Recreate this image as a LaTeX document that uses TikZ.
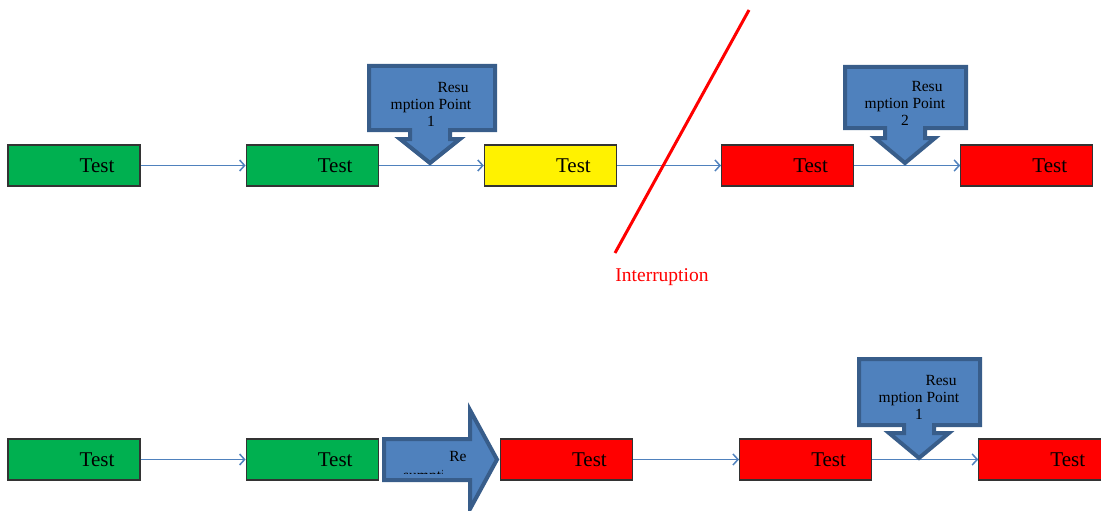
\documentclass[tikz,border=0pt]{standalone}
\usepackage{fontspec}
\setmainfont{Liberation Serif}
\usetikzlibrary{positioning,arrows.meta}
\definecolor{okgreen}{RGB}{0,176,80}
\definecolor{rpblue}{RGB}{79,129,189}
\definecolor{rpedge}{RGB}{56,93,138}
\tikzset{
  testbox/.style={draw=black!80, line width=1.2pt, minimum width=132pt, minimum height=41pt, inner sep=0pt,
    label={[xshift=23pt,font=\fontsize{21}{21}\selectfont]center:Test}},
  flow/.style={draw=rpblue, line width=1.5pt, -{Straight Barb[length=5pt,width=11pt,line width=1.5pt]}},
  rpshape/.style={fill=rpblue, draw=rpedge, line width=4pt, line join=miter},
  rptext/.style={font=\fontsize{15.5}{17}\selectfont, align=center, inner sep=0pt}
}

\begin{document}
\begin{tikzpicture}[x=1pt,y=-1pt]
    \useasboundingbox (0,0) rectangle (1101,511);

    % Top row
    \node[testbox, fill=okgreen] (t1) at (74,165.5) {};
    \node[testbox, fill=okgreen, right=105pt of t1] (t2) {};
    \node[testbox, fill=yellow, right=105pt of t2] (t3) {};
    \node[testbox, fill=red, right=104pt of t3] (t4) {};
    \node[testbox, fill=red, right=106pt of t4] (t5) {};

    \draw[flow] (t1) -- (t2);
    \draw[flow] (t2) -- (t3);
    \draw[flow] (t3) -- (t4);
    \draw[flow] (t4) -- (t5);

    % Resumption point 1 (top)
    \draw[rpshape] (369,66) -- (495,66) -- (495,130) -- (450,130) -- (450,139) -- (460,139)
        -- (430,163) -- (400,139) -- (410,139) -- (410,130) -- (369,130) -- cycle;
    \node[rptext] (rp1) at (431,104) {\hspace*{44pt}Resu\\mption Point\\1};

    % Resumption point 2 (top)
    \draw[rpshape] (845,67) -- (966,67) -- (966,128) -- (925,128) -- (925,138) -- (935,138)
        -- (905,163) -- (875,138) -- (885,138) -- (885,128) -- (845,128) -- cycle;
    \node[rptext] (rp2) at (905,103) {\hspace*{44pt}Resu\\mption Point\\2};

    % Interruption
    \coordinate (cut top) at (749,10);
    \coordinate (cut bottom) at (615,253);
    \draw[red, line width=3pt] (cut top) -- (cut bottom);
    \node[text=red, font=\fontsize{19.5}{19.5}\selectfont] (intr) at (662,277) {Interruption};

    % Bottom row
    \node[testbox, fill=okgreen] (b1) at (74,459.5) {};
    \node[testbox, fill=okgreen, right=105pt of b1] (b2) {};
    \node[testbox, fill=red, right=121pt of b2] (b3) {};
    \node[testbox, fill=red, right=106pt of b3] (b4) {};
    \node[testbox, fill=red, right=106pt of b4] (b5) {};

    \draw[flow] (b1) -- (b2);
    \draw[flow] (b3) -- (b4);
    \draw[flow] (b4) -- (b5);

    % Resume arrow
    \draw[rpshape] (384,439) -- (470,439) -- (470,410) -- (497,459.5) -- (470,509)
        -- (470,480) -- (384,480) -- cycle;
    \node[rptext] (re) at (458,456) {Re};
    \begin{scope}
        \clip (398,468) rectangle (442,473.5);
        \node[rptext, anchor=base west] (sump) at (403,480) {sumption};
    \end{scope}

    % Resumption point 1 (bottom)
    \draw[rpshape] (859,359) -- (980,359) -- (980,425) -- (934,425) -- (934,433) -- (949,433)
        -- (919,458) -- (889,433) -- (904,433) -- (904,425) -- (859,425) -- cycle;
    \node[rptext] (rp3) at (919,397) {\hspace*{44pt}Resu\\mption Point\\1};

\end{tikzpicture}
\end{document}
